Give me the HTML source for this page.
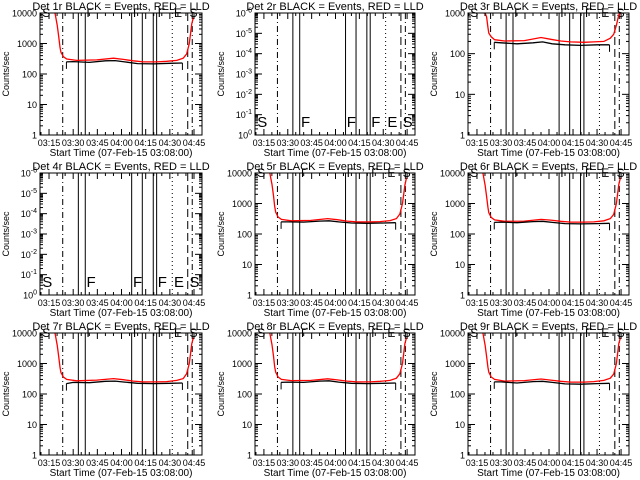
<!DOCTYPE html>
<html><head><meta charset="utf-8">
<style>
html,body{margin:0;padding:0;background:#fff;}
svg{display:block;font-family:"Liberation Sans",sans-serif;}
</style></head>
<body>
<svg id="chart" width="640" height="480" viewBox="0 0 640 480"></svg>
<script>
// ---- data ----
const detNames = ["1r","2r","3r","4r","5r","6r","7r","8r","9r"];
const xTickMinutes = [15,30,45,60,75,90,105];
const xTickLabels = ["03:15","03:30","03:45","04:00","04:15","04:30","04:45"];
const eventTimes = [23.5,33.2,37.5,66.3,72.9,79.7,81.8,91.5,101.1,103.9];
const eventStyles = ["dashdot","solid","solid","solid","solid","solid","solid","dotted","dashed","dashdot"];
const eventLetterTimes = [10.8,38.3,67.1,82.5,92.6,102.2];
const eventLetters = ["S","F","F","F","E","S"];
const redTimes = [18.7,20.1,21,21.8,22.4,23.9,26,32.2,44.6,55,61.1,67.3,73.5,81.8,88,94.3,98.3,100.4,102.1,103.6,104.6];
const red1 = [10000,4000,1700,750,520,370,310,280,290,330,300,270,250,250,260,280,330,450,1000,4500,7000];
const red3 = [1000,1000,800,450,320,260,220,205,210,250,225,205,195,190,195,200,240,300,500,900,1000];
const red5 = [10000,4200,1800,800,520,360,300,270,280,320,295,265,250,250,255,275,320,450,1000,4000,7000];
const red6 = [10000,4000,1700,760,500,350,290,260,265,300,285,260,245,245,250,270,320,440,1000,4200,7000];
const red7 = [10000,4000,1700,750,510,360,300,270,285,320,295,265,250,250,255,280,320,460,1000,4500,7000];
const red8 = [10000,4100,1750,770,520,360,300,275,280,315,290,265,250,250,260,280,330,460,1000,4500,7000];
const red9 = [10000,4000,1700,760,520,360,300,265,275,310,285,260,245,245,255,280,330,450,1000,4500,7000];
const blackTimes = [25.8,30,40,50,56,62,70,80,90,97.8];
const black1 = [250,255,240,270,275,250,220,215,225,230];
const black3 = [190,185,175,185,195,175,165,160,165,165];
const black5 = [250,250,245,265,270,250,230,225,230,235];
const black6 = [240,245,235,255,260,240,220,215,220,225];
const black7 = [220,240,235,260,265,245,225,220,225,230];
const black8 = [240,245,240,265,270,245,225,220,225,230];
const black9 = [250,250,230,255,260,240,215,210,220,225];
const panelRed = [red1,null,red3,null,red5,red6,red7,red8,red9];
const panelBlack = [black1,null,black3,null,black5,black6,black7,black8,black9];

// ---- layout ----
const colL=[40,255,468], colW=[162,160,161], rowT=[13,173,333], PH=122;
const T0=9.4;
const NS="http://www.w3.org/2000/svg";
const svg=document.getElementById("chart");
function mk(tag,attrs,parent){const e=document.createElementNS(NS,tag);for(const k in attrs)e.setAttribute(k,attrs[k]);(parent||svg).appendChild(e);return e;}

for(let p=0;p<9;p++){
  const L=colL[p%3], W=colW[p%3], T=rowT[Math.floor(p/3)], B=T+PH, R=L+W;
  const scale=W/ (162/1.611);
  const xOf=t=>L+(t-T0)*scale;
  const isFlat=(panelRed[p]===null);
  const dmin = isFlat? -6:0, dmax = isFlat?0:(p===2?3:4);
  const yOfLog=v=>B-(Math.log10(v)-dmin)/(dmax-dmin)*PH;

  const g=mk("g",{});
  
  

  const clipId="clip"+p;
  const cp=mk("clipPath",{id:clipId},g);
  mk("rect",{x:L,y:T,width:W,height:PH},cp);

  // title
  const title=mk("text",{x:L+W/2,y:T-3,"font-size":"11","text-anchor":"middle",fill:"#000"},g);
  title.textContent="Det "+detNames[p]+" BLACK = Events, RED = LLD";
  
  

  // event lines
  const evG=mk("g",{"clip-path":"url(#"+clipId+")"},g);
  
  
  eventTimes.forEach((t,i)=>{
    const x=xOf(t);
    const st=eventStyles[i];
    const da= st==="dashdot"?"6,3,1,3": st==="dotted"?"1,3": st==="dashed"?"8,4":"none";
    const ln=mk("line",{x1:x,y1:T,x2:x,y2:B,stroke:"#000","stroke-width":1,"stroke-dasharray":da},evG);
    
    
  });
  // event letters
  const letG = isFlat ? evG : g;
  eventLetterTimes.forEach((t,i)=>{
    const x=xOf(t);
    const y= isFlat? B-8 : T+4;
    const tx=mk("text",{x:x,y:y,"font-size":isFlat?"15":"12","fill":"#000"},letG);
    tx.textContent=eventLetters[i];
    
    
  });

  // series
  if(!isFlat){
    const red=panelRed[p], blk=panelBlack[p];
    const rp=redTimes.map((t,i)=>xOf(t).toFixed(1)+","+yOfLog(red[i]).toFixed(1)).join(" ");
    const rl=mk("polyline",{points:rp,fill:"none",stroke:"#ff0000","stroke-width":1.3,"clip-path":"url(#"+clipId+")"},g);
    
    
    const bp=blackTimes.map((t,i)=>xOf(t).toFixed(1)+","+yOfLog(blk[i]).toFixed(1)).join(" ");
    const bl=mk("polyline",{points:bp,fill:"none",stroke:"#000","stroke-width":1.3,"clip-path":"url(#"+clipId+")"},g);
    
    
    const x0=xOf(blackTimes[0]), y0=yOfLog(blk[0]);
    mk("line",{x1:x0,y1:y0,x2:x0,y2:y0+7,stroke:"#000"},g);
    const xn=xOf(blackTimes[blackTimes.length-1]), yn=yOfLog(blk[blk.length-1]);
    mk("line",{x1:xn,y1:yn,x2:xn,y2:yn+7,stroke:"#000"},g);
  }

  // frame
  const fr=mk("rect",{x:L,y:T,width:W,height:PH,fill:"none",stroke:"#000","stroke-width":1},g);
  
  

  // y ticks
  for(let d=dmin; d<=dmax; d++){
    const y=B-(d-dmin)/(dmax-dmin)*PH;
    mk("line",{x1:L,y1:y,x2:L+7,y2:y,stroke:"#000"},g);
    mk("line",{x1:R,y1:y,x2:R-7,y2:y,stroke:"#000"},g);
    const lab=mk("text",{x:L-3,y:y+3.5,"font-size":"9","text-anchor":"end",fill:"#000"},g);
    if(isFlat){
      lab.textContent="10";
      const sp=mk("tspan",{"font-size":"7",dy:"-4"},lab);
      sp.textContent = (d===dmin)?"0":String(-(d-dmin));
    } else {
      lab.textContent=String(Math.pow(10,d));
    }
    
    
    if(d<dmax){
      for(let m=2;m<=9;m++){
        const yy=B-(d+Math.log10(m)-dmin)/(dmax-dmin)*PH;
        mk("line",{x1:L,y1:yy,x2:L+3,y2:yy,stroke:"#000"},g);
        mk("line",{x1:R,y1:yy,x2:R-3,y2:yy,stroke:"#000"},g);
      }
    }
  }
  // x ticks
  xTickMinutes.forEach((t,i)=>{
    const x=xOf(t);
    mk("line",{x1:x,y1:B,x2:x,y2:B-6,stroke:"#000"},g);
    mk("line",{x1:x,y1:T,x2:x,y2:T+6,stroke:"#000"},g);
    const lab=mk("text",{x:x,y:B+11,"font-size":"9","text-anchor":"middle",fill:"#000"},g);
    lab.textContent=xTickLabels[i];
    
    
  });
  for(let t=10;t<=110;t+=5){
    if(t%15===0) continue;
    const x=xOf(t); if(x<L||x>R) continue;
    mk("line",{x1:x,y1:B,x2:x,y2:B-3,stroke:"#000"},g);
    mk("line",{x1:x,y1:T,x2:x,y2:T+3,stroke:"#000"},g);
  }
  const xt=mk("text",{x:L+W/2,y:B+21,"font-size":"10","text-anchor":"middle",fill:"#000"},g);
  xt.textContent="Start Time (07-Feb-15 03:08:00)";
  
  
  const yx=L-31, yy=T+PH/2;
  const yt=mk("text",{x:yx,y:yy,"font-size":"9","text-anchor":"middle",fill:"#000",transform:"rotate(-90 "+yx+" "+yy+")"},g);
  yt.textContent="Counts/sec";
  
  
}
</script>
</body></html>
